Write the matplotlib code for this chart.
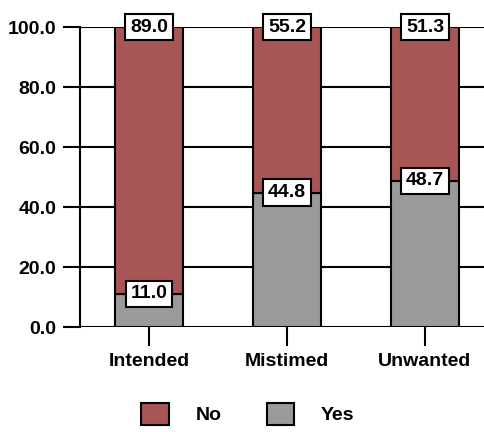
import numpy as np
import matplotlib.pyplot as plt
from matplotlib.patches import Patch

plt.rcParams['font.family'] = 'Liberation Sans'
plt.rcParams['font.weight'] = 'bold'

categories = ['Intended', 'Mistimed', 'Unwanted']
yes_vals = [11.0, 44.8, 48.7]
no_vals = [89.0, 55.2, 51.3]
yticks = [0, 20, 40, 60, 80, 100]

red = '#a85555'
grey = '#9a9a9a'
fs = 14

fig = plt.figure(figsize=(4.85, 4.32), dpi=100)
ax = fig.add_axes([80 / 485, 105 / 432, 414 / 485, 300 / 432])

x = np.arange(len(categories))
w = 0.49
ax.bar(x, yes_vals, w, color=grey, edgecolor='black', linewidth=1.5, zorder=3)
ax.bar(x, no_vals, w, bottom=yes_vals, color=red, edgecolor='black', linewidth=1.5, zorder=3)

# value boxes sit centred on the top edge of each segment
box = dict(boxstyle='square,pad=0.25', fc='white', ec='black', lw=1.5)
for i in range(len(categories)):
    ax.text(x[i], yes_vals[i], '%.1f' % yes_vals[i], ha='center', va='center',
            fontsize=fs, fontweight='bold', bbox=box, zorder=5)
    top = yes_vals[i] + no_vals[i]
    ax.text(x[i], top, '%.1f' % no_vals[i], ha='center', va='center',
            fontsize=fs, fontweight='bold', bbox=box, zorder=5)

ax.set_xlim(-0.5, 2.5)
ax.set_ylim(0, 100)
ax.set_yticks(yticks)
ax.set_yticklabels(['%.1f' % v for v in yticks], fontsize=fs, fontweight='bold')
ax.set_xticks(x)
ax.set_xticklabels(categories, fontsize=fs, fontweight='bold')
ax.tick_params(axis='y', length=12, width=1.5, pad=5)
ax.tick_params(axis='x', length=14, width=1.5, pad=5)
ax.grid(axis='y', color='black', linewidth=1.5, zorder=0)
ax.set_axisbelow(True)
for s in ['top', 'right', 'bottom']:
    ax.spines[s].set_visible(False)
ax.spines['left'].set_linewidth(1.5)

handles = [Patch(facecolor=red, edgecolor='black', linewidth=1.5, label='No'),
           Patch(facecolor=grey, edgecolor='black', linewidth=1.5, label='Yes')]
fig.legend(handles=handles, loc='center', bbox_to_anchor=(248 / 485, 1 - 414 / 432),
           ncol=2, frameon=False, fontsize=fs, handlelength=1.4, handleheight=1.4,
           handletextpad=1.4, columnspacing=2.3)

fig.savefig('out.png', dpi=100)
